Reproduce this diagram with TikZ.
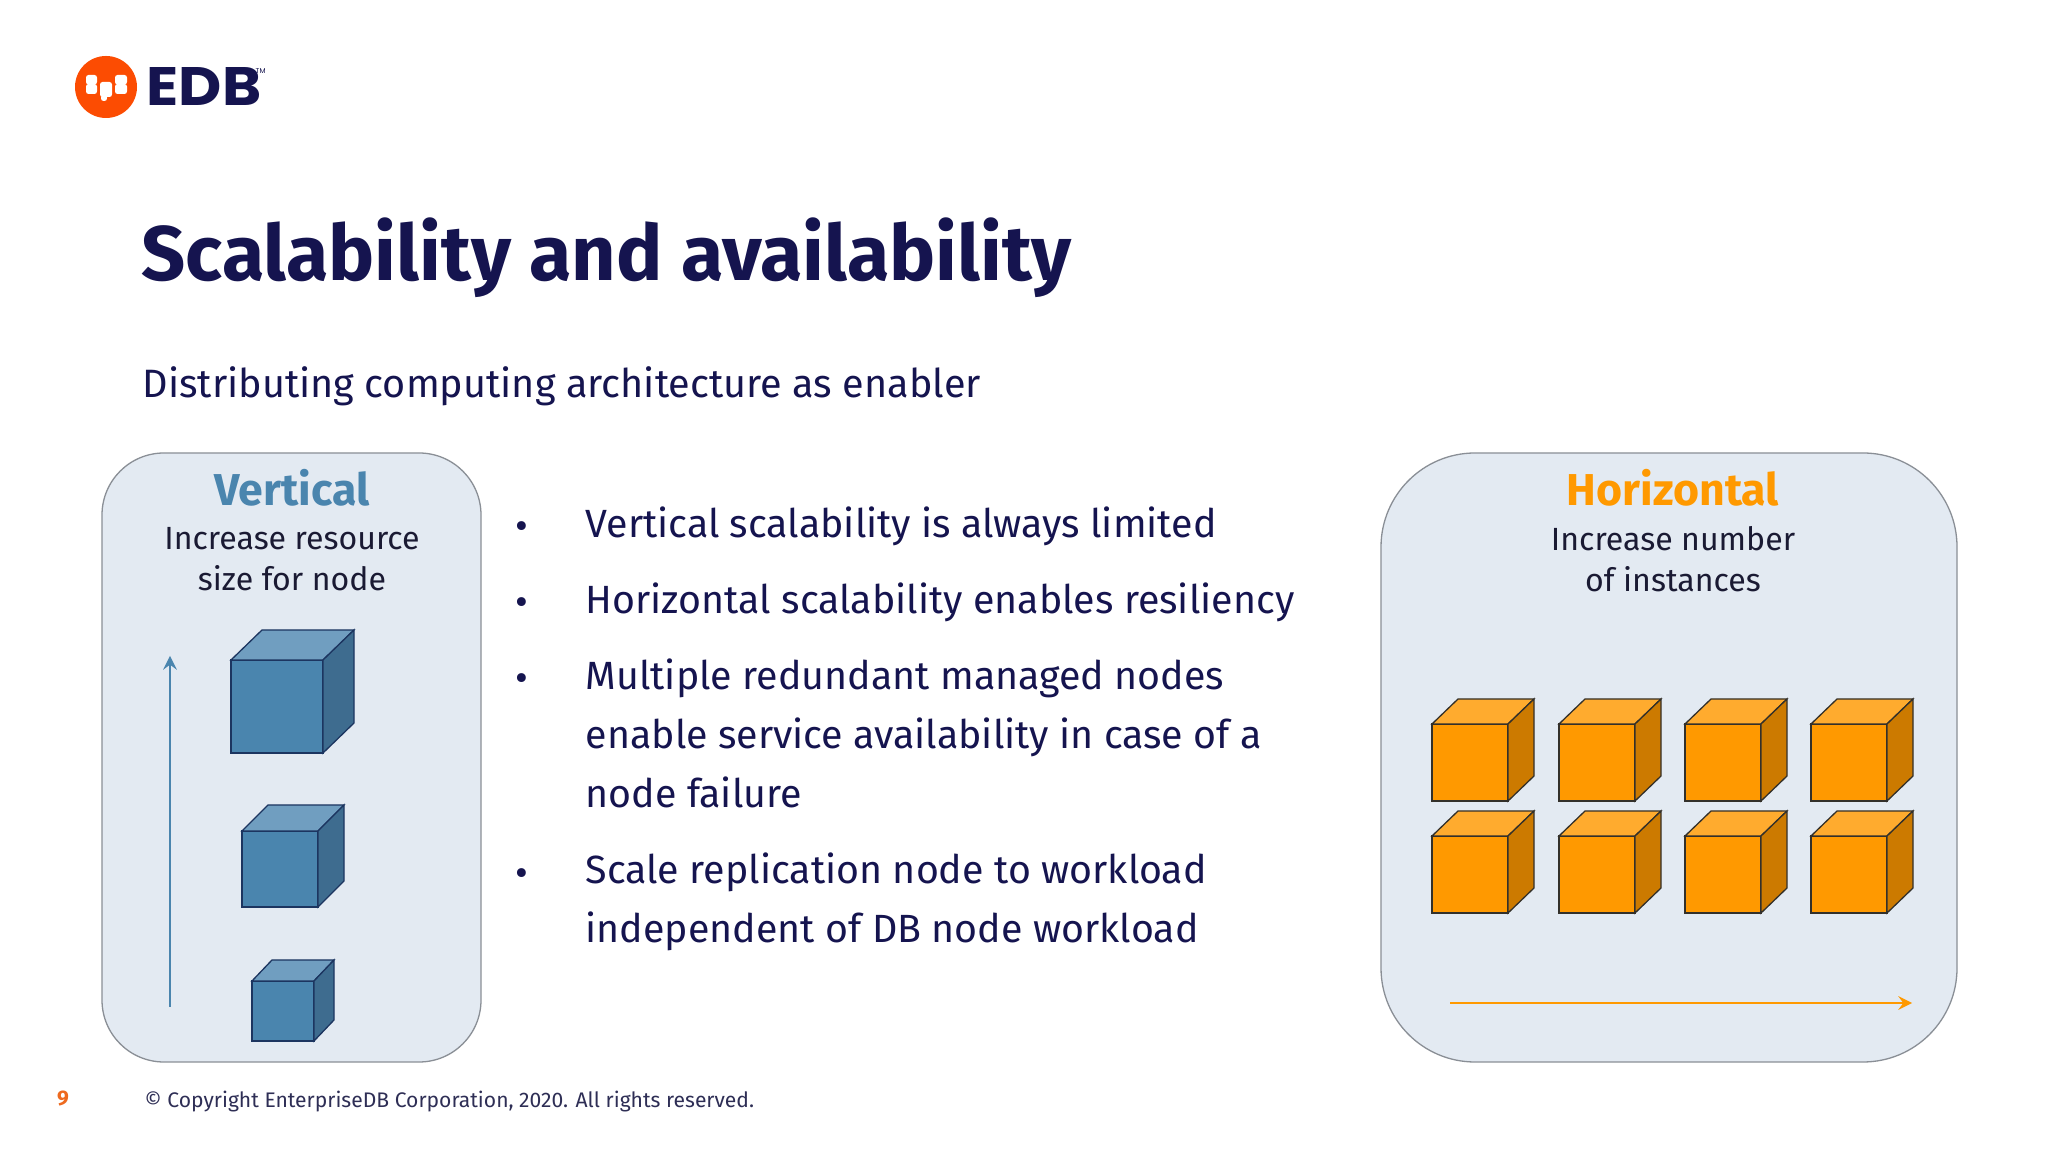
\documentclass[tikz,border=0pt]{standalone}
\usepackage{fontspec}
\setmainfont{Fira Sans}
\newfontfamily\logofont{Poppins}
\usetikzlibrary{arrows}
\definecolor{navy}{HTML}{15144F}
\definecolor{inktext}{HTML}{1A1A33}
\definecolor{panelfill}{HTML}{E3EAF2}
\definecolor{panelline}{HTML}{8A8F96}
\definecolor{bluefront}{HTML}{4A85AE}
\definecolor{bluetop}{HTML}{709EC0}
\definecolor{blueside}{HTML}{3E6C8F}
\definecolor{blueline}{HTML}{1C3560}
\definecolor{orangefront}{HTML}{FF9900}
\definecolor{orangetop}{HTML}{FFAB2E}
\definecolor{orangeside}{HTML}{CC7A00}
\definecolor{orangeline}{HTML}{33302A}
\definecolor{logored}{HTML}{FC4C02}
\definecolor{pagecolor}{HTML}{EE6A1F}
\definecolor{footgray}{HTML}{2E2E55}
\tikzset{>=stealth,
  panel/.style={draw=panelline,fill=panelfill,line width=0.13mm},
  heading/.style={font=\fontsize{12.7}{15}\selectfont\bfseries},
  panel text/.style={font=\fontsize{9.13}{11.6}\selectfont,text=inktext,align=center},
  body text/.style={font=\fontsize{11.2}{16.8}\selectfont,text=navy,anchor=base west,align=left,inner sep=0pt},
  bullet/.style={font=\fontsize{11.2}{12}\selectfont,text=navy,inner sep=0pt},
  logo blob/.style={fill=white,rounded corners=0.25mm}}
\newcommand{\cubebox}[7]{%
  \draw [draw=#7line,fill=#7front,line width=0.13mm] (#1,#2) rectangle (#1+#3,#2+#4);
  \draw [draw=#7line,fill=#7top,line width=0.13mm] (#1,#2) -- (#1+#5,#2-#6) -- (#1+#3+#5,#2-#6) -- (#1+#3,#2) -- cycle;
  \draw [draw=#7line,fill=#7side,line width=0.13mm] (#1+#3,#2) -- (#1+#3+#5,#2-#6) -- (#1+#3+#5,#2+#4-#6) -- (#1+#3,#2+#4) -- cycle;}
\begin{document}
\begin{tikzpicture}[x=0.1mm,y=-0.1mm]

	\useasboundingbox (0,0) rectangle (2048,1152);
	\fill [white] (0,0) rectangle (2048,1152);

	\fill [logored] (106,87) circle (3.1mm);
	\fill [logo blob] (86,75) rectangle (97,84.5);
	\fill [logo blob] (86,84) rectangle (97,94);
	\fill [logo blob] (100,82) rectangle (112,97);
	\fill [logo blob] (101,95) rectangle (107,101);
	\fill [logo blob] (115,75) rectangle (127,84.5);
	\fill [logo blob] (115,84) rectangle (127,94);
	\draw (146,106) node (logo) [anchor=base west,inner sep=0pt,text=navy,xscale=1.1] {\logofont\fontsize{15.4}{15.4}\selectfont\bfseries EDB};
	\draw (255,74) node (tm) [anchor=base west,inner sep=0pt,text=navy] {\logofont\fontsize{2}{3}\selectfont TM};

	\draw (141,281) node (title) [anchor=base west,inner sep=0pt,text=navy] {\fontsize{22}{25}\selectfont\bfseries Scalability and availability};
	\draw (142,398) node (subtitle) [anchor=base west,inner sep=0pt,text=navy] {\fontsize{11.26}{13}\selectfont Distributing computing architecture as enabler};

	\draw [panel,rounded corners=6.2mm] (102,453) rectangle (481,1062);
	\draw [panel,rounded corners=9.4mm] (1381,453) rectangle (1957,1062);

	\draw (292,488) node (vhead) [heading,text=bluefront] {Vertical};
	\draw (292,559) node (vtext) [panel text] {Increase resource\\size for node};
	\draw (1673,488) node (hhead) [heading,text=orangefront] {Horizontal};
	\draw (1673,559) node (htext) [panel text] {Increase number\\of instances};

	\coordinate (vstart) at (170,1007);
	\coordinate (vend) at (170,656);
	\draw [->,bluefront,line width=0.25mm] (vstart) -- (vend);
	\cubebox{231}{660}{92}{93}{31}{30}{blue}
	\cubebox{242}{831}{76}{76}{26}{26}{blue}
	\cubebox{252}{981}{62}{60}{20}{21}{blue}

	\foreach \xpos in {1432,1559,1685,1811}
		\foreach \ypos in {724,836}
			{\cubebox{\xpos}{\ypos}{76}{77}{26}{25}{orange}}

	\coordinate (hstart) at (1450,1003);
	\coordinate (hend) at (1912,1003);
	\draw [->,orangefront,line width=0.25mm] (hstart) -- (hend);

	\draw (522,531) node (b1) [bullet] {•};
	\draw (522,607) node (b2) [bullet] {•};
	\draw (522,683) node (b3) [bullet] {•};
	\draw (522,878) node (b4) [bullet] {•};

	\draw (585,538) node (t1) [body text] {Vertical scalability is always limited};
	\draw (585,614) node (t2) [body text] {Horizontal scalability enables resiliency};
	\draw (585,808) node (t3) [body text] {Multiple redundant managed nodes\\enable service availability in case of a\\node failure};
	\draw (585,943) node (t4) [body text] {Scale replication node to workload\\independent of DB node workload};

	\draw (63,1106) node (pagenum) [anchor=base,inner sep=0pt,text=pagecolor] {\fontsize{6}{7}\selectfont\bfseries 9};
	\draw (144,1107) node (copyright) [anchor=base west,inner sep=0pt,text=footgray] {\fontsize{6}{7.5}\selectfont © Copyright EnterpriseDB Corporation, 2020. All rights reserved.};

\end{tikzpicture}
\end{document}
